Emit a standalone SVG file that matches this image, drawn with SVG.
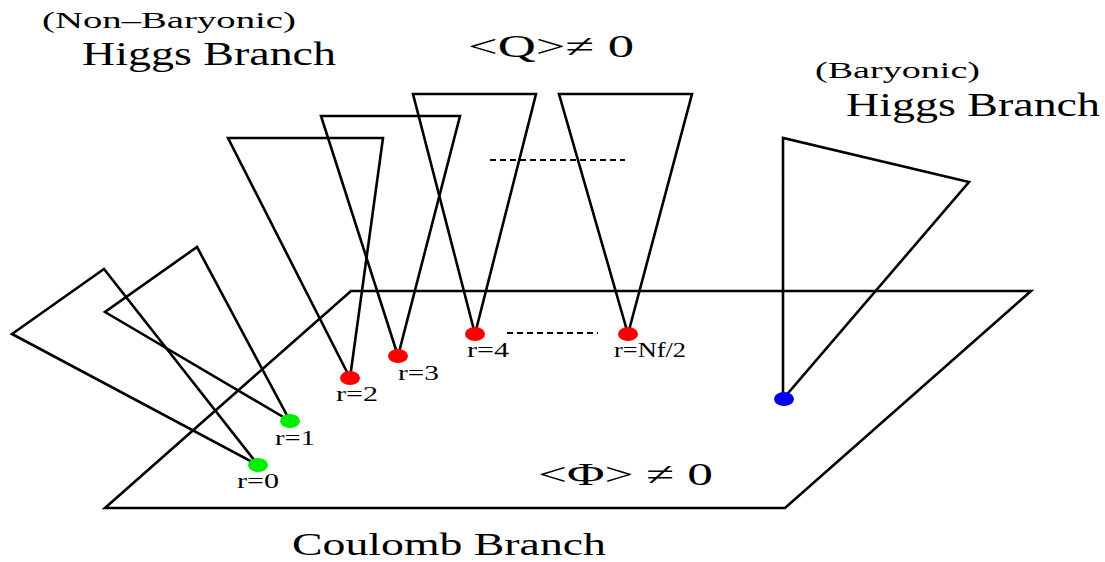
<svg xmlns="http://www.w3.org/2000/svg" width="1105" height="562" viewBox="0 0 1105 562">
<style>
.ln{fill:none;stroke:#000;stroke-width:2.6;stroke-linejoin:miter}
.ds{fill:none;stroke:#000;stroke-width:2;stroke-dasharray:6,4}
.t{font-family:"Liberation Serif","Times New Roman",serif;fill:#000}
.lab{font-family:"Liberation Serif","Times New Roman",serif;font-size:20px;fill:#000}
</style>
<rect width="1105" height="562" fill="#fff"/>
<g id="plane">
<polygon class="ln" points="351,291 1031,291 785,508 105,508"/>
</g>
<g id="connectors">
<polygon class="ln" points="258,465 12,334 104,269"/>
<polygon class="ln" points="290,421 105,312 197,247"/>
<polygon class="ln" points="350,378 228,138 383,138"/>
<polygon class="ln" points="398,356 321,116 460,116"/>
<polygon class="ln" points="475,334 413,94 536,94"/>
<polygon class="ln" points="628,334 559,94 692,94"/>
<polygon class="ln" points="783,399 783,138 969,182"/>
<line class="ds" x1="490" y1="160" x2="625" y2="160"/>
<line class="ds" x1="507" y1="333" x2="598" y2="333"/>
</g>
<g id="r0"><ellipse cx="258" cy="465" rx="10" ry="7" fill="#00ee00"/><text class="lab" x="237" y="488" textLength="42" lengthAdjust="spacingAndGlyphs">r=0</text></g>
<g id="r1"><ellipse cx="290" cy="421" rx="10" ry="7" fill="#00ee00"/><text class="lab" x="275" y="445" textLength="40" lengthAdjust="spacingAndGlyphs">r=1</text></g>
<g id="r2"><ellipse cx="350" cy="378" rx="10" ry="7" fill="#ff0000"/><text class="lab" x="336" y="401" textLength="42" lengthAdjust="spacingAndGlyphs">r=2</text></g>
<g id="r3"><ellipse cx="398" cy="356" rx="10" ry="7" fill="#ff0000"/><text class="lab" x="398" y="380" textLength="41" lengthAdjust="spacingAndGlyphs">r=3</text></g>
<g id="r4"><ellipse cx="475" cy="334" rx="10" ry="7" fill="#ff0000"/><text class="lab" x="467" y="357" textLength="42" lengthAdjust="spacingAndGlyphs">r=4</text></g>
<g id="rN"><ellipse cx="628" cy="334" rx="10" ry="7" fill="#ff0000"/><text class="lab" x="614" y="357" textLength="72" lengthAdjust="spacingAndGlyphs">r=Nf/2</text></g>
<g id="blue"><ellipse cx="784" cy="399" rx="10" ry="7" fill="#0000ee"/></g>
<g id="labels">
<text class="t" x="42" y="28" font-size="23" textLength="254" lengthAdjust="spacingAndGlyphs">(Non–Baryonic)</text>
<text class="t" x="82" y="65" font-size="34" textLength="254" lengthAdjust="spacingAndGlyphs">Higgs Branch</text>
<text class="t" x="468" y="57" font-size="32" textLength="166" lengthAdjust="spacingAndGlyphs">&lt;Q&gt;≠ 0</text>
<text class="t" x="815" y="78" font-size="23" textLength="165" lengthAdjust="spacingAndGlyphs">(Baryonic)</text>
<text class="t" x="846" y="116" font-size="34" textLength="254" lengthAdjust="spacingAndGlyphs">Higgs Branch</text>
<text class="t" x="538" y="485" font-size="32" textLength="175" lengthAdjust="spacingAndGlyphs">&lt;Φ&gt; ≠ 0</text>
<text class="t" x="292" y="555" font-size="32" textLength="314" lengthAdjust="spacingAndGlyphs">Coulomb Branch</text>
</g>
</svg>
